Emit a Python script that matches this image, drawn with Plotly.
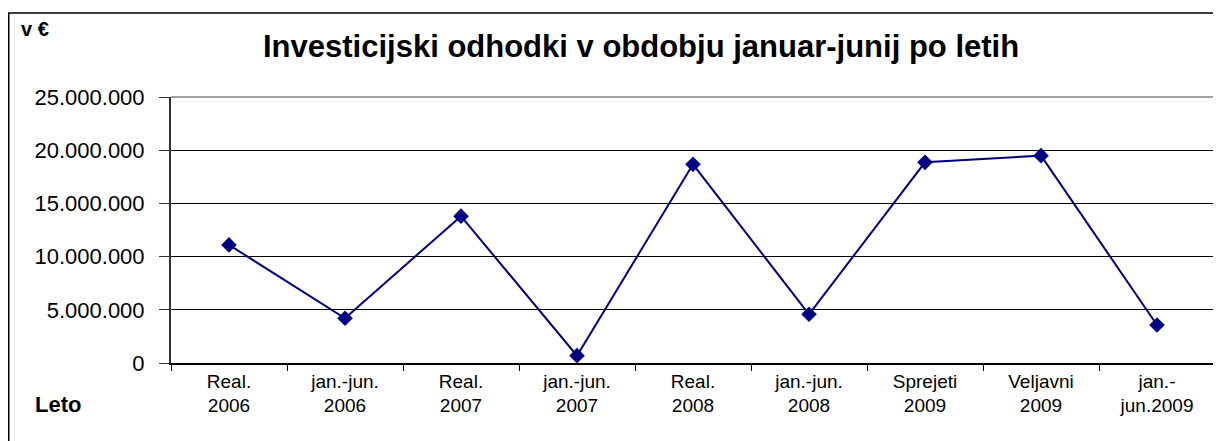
import plotly.graph_objects as go

categories = ["Real.<br>2006", "jan.-jun.<br>2006", "Real.<br>2007", "jan.-jun.<br>2007",
              "Real.<br>2008", "jan.-jun.<br>2008", "Sprejeti<br>2009", "Veljavni<br>2009",
              "jan.-<br>jun.2009"]
values = [11100000, 4200000, 13800000, 690000, 18670000, 4580000, 18860000, 19490000, 3570000]
y_ticks = [0, 5000000, 10000000, 15000000, 20000000, 25000000]

title_text = "Investicijski odhodki v obdobju januar-junij po letih"
y_unit = "v €"
x_label = "Leto"

OFF = 8  # page body margin
W, H = 1221 - OFF, 441 - OFF
L, R, T, B = 171 - OFF, 6, 97 - OFF, 78
pw, ph = W - L - R, H - T - B

def px_x(x):
    return (x - OFF - L) / pw

def px_y(y):
    return (H - B - (y - OFF)) / ph

fig = go.Figure()
fig.add_trace(go.Scatter(
    x=categories, y=values, mode="lines+markers",
    line=dict(color="#000080", width=2),
    marker=dict(symbol="diamond", size=12, color="#000080"),
    showlegend=False, cliponaxis=False,
))

fig.update_layout(
    width=W, height=H,
    margin=dict(l=L, r=R, t=T, b=B, pad=0),
    paper_bgcolor="white", plot_bgcolor="white",
    separators=",.",
    font=dict(family="Liberation Sans, Arial, sans-serif", color="black", size=20),
    xaxis=dict(
        type="category", tickson="boundaries", ticks="outside", ticklen=6,
        tickcolor="black", tickwidth=1, showgrid=False,
        showline=True, linecolor="black", linewidth=1.5,
        tickfont=dict(size=19), range=[-0.5, 8.5],
    ),
    yaxis=dict(
        range=[0, 25000000], tickvals=y_ticks, tickformat=",d",
        ticks="outside", ticklen=10, tickcolor="#333333", tickwidth=1,
        showgrid=True, gridcolor="black", gridwidth=1,
        showline=True, linecolor="#333333", linewidth=2,
        zeroline=False, ticklabelstandoff=10,
        tickfont=dict(size=22),
    ),
    shapes=[
        dict(type="line", xref="paper", yref="paper", x0=0, x1=1, y0=1, y1=1,
             line=dict(color="#a0a0a0", width=2)),
        dict(type="line", xref="paper", yref="paper", x0=1, x1=1, y0=0, y1=1,
             line=dict(color="#a0a0a0", width=2)),
        dict(type="rect", xref="paper", yref="paper",
             x0=px_x(8.75), x1=px_x(1240), y0=px_y(460), y1=px_y(13),
             line=dict(color="black", width=1.5), layer="below"),
    ],
    annotations=[
        dict(text="<b>" + title_text + "</b>", xref="paper", yref="paper",
             x=px_x(641), y=px_y(46), xanchor="center", yanchor="middle",
             showarrow=False, font=dict(size=31)),
        dict(text="<b>" + y_unit + "</b>", xref="paper", yref="paper",
             x=px_x(19), y=px_y(29), xanchor="left", yanchor="middle",
             showarrow=False, font=dict(size=20)),
        dict(text="<b>" + x_label + "</b>", xref="paper", yref="paper",
             x=px_x(58), y=px_y(404), xanchor="center", yanchor="middle",
             showarrow=False, font=dict(size=22)),
    ],
)

fig.write_html("out.html")
